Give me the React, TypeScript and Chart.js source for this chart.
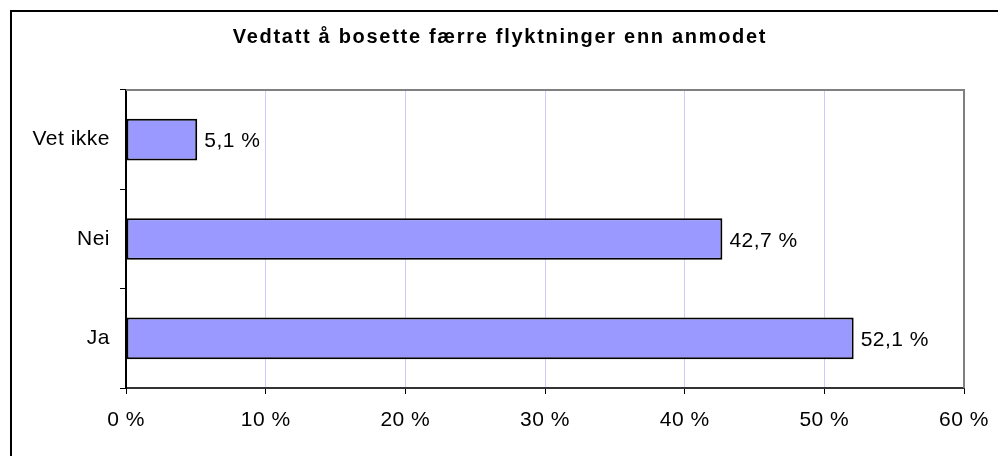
import React, { useEffect, useRef } from "react";
import { Chart, registerables } from "chart.js";

Chart.register(...registerables);

const title = "Vedtatt å bosette færre flyktninger enn anmodet";
const categories = ["Vet ikke", "Nei", "Ja"];
const values = [5.1, 42.7, 52.1];
const xMin = 0;
const xMax = 60;
const xStep = 10;

const FONT = '"Liberation Sans", Arial, sans-serif';

const fmt = (v: number) => `${v.toFixed(1).replace(".", ",")} %`;

const framePlugin = {
  id: "frame",
  beforeDraw(chart: any) {
    const ctx = chart.ctx;
    ctx.save();
    ctx.fillStyle = "#ffffff";
    ctx.fillRect(0, 0, chart.width, chart.height);
    ctx.fillStyle = "#000000";
    ctx.fillRect(10, 10, chart.width - 10, 2);
    ctx.fillRect(10, 10, 2, chart.height - 10);
    ctx.font = `bold 20px ${FONT}`;
    ctx.textAlign = "center";
    ctx.textBaseline = "alphabetic";
    (ctx as any).letterSpacing = "1.7px";
    ctx.fillText(title, 500, 43);
    ctx.restore();
    (ctx as any).letterSpacing = "0.5px";
  },
  afterDatasetsDraw(chart: any) {
    const ctx = chart.ctx;
    const a = chart.chartArea;
    ctx.save();
    ctx.strokeStyle = "#808080";
    ctx.lineWidth = 2;
    ctx.beginPath();
    ctx.moveTo(a.left, a.top);
    ctx.lineTo(a.right, a.top);
    ctx.lineTo(a.right, a.bottom);
    ctx.stroke();
    ctx.fillStyle = "#000000";
    ctx.font = `21px ${FONT}`;
    ctx.textAlign = "left";
    ctx.textBaseline = "middle";
    const meta = chart.getDatasetMeta(0);
    meta.data.forEach((el: any, i: number) => {
      ctx.fillText(fmt(values[i]), el.x + 7, el.y + 2);
    });
    ctx.restore();
  },
  afterDraw(chart: any) {
    (chart.ctx as any).letterSpacing = "0px";
  },
};

export default function App() {
  const ref = useRef<HTMLCanvasElement | null>(null);
  useEffect(() => {
    if (!ref.current) return;
    const chart = new Chart(ref.current, {
      type: "bar",
      data: {
        labels: categories,
        datasets: [
          {
            data: values,
            backgroundColor: "#9999ff",
            borderColor: "#000000",
            borderWidth: 2,
            borderSkipped: false,
            categoryPercentage: 1,
            barPercentage: 0.42,
          },
        ],
      },
      options: {
        indexAxis: "y",
        responsive: false,
        animation: false,
        layout: { padding: { top: 90, right: 34, left: 0, bottom: 0 } },
        plugins: {
          legend: { display: false },
          title: { display: false },
          tooltip: { enabled: false },
        },
        scales: {
          x: {
            min: xMin,
            max: xMax,
            ticks: {
              stepSize: xStep,
              color: "#000",
              font: { family: FONT, size: 21 },
              padding: 14,
              callback: (v: any) => `${v} %`,
            },
            grid: {
              color: "#ccccff",
              lineWidth: 1,
              tickColor: "#000",
              tickLength: 6,
            },
            border: { color: "#333", width: 2 },
            afterFit: (s: any) => {
              s.height = 68;
              s.paddingLeft = 0;
              s.paddingRight = 0;
            },
          },
          y: {
            ticks: {
              color: "#000",
              font: { family: FONT, size: 21 },
              padding: 10,
            },
            grid: {
              offset: true,
              drawOnChartArea: false,
              tickColor: "#000",
              tickLength: 6,
              lineWidth: 1,
            },
            border: { color: "#000", width: 2 },
            afterFit: (s: any) => {
              s.width = 126;
              s.paddingTop = 0;
              s.paddingBottom = 0;
            },
          },
        },
      },
      plugins: [framePlugin],
    });
    return () => chart.destroy();
  }, []);
  return (
    <div style={{ position: "absolute", left: 0, top: 0, width: 998, height: 456 }}>
      <canvas ref={ref} width={998} height={456} />
    </div>
  );
}
